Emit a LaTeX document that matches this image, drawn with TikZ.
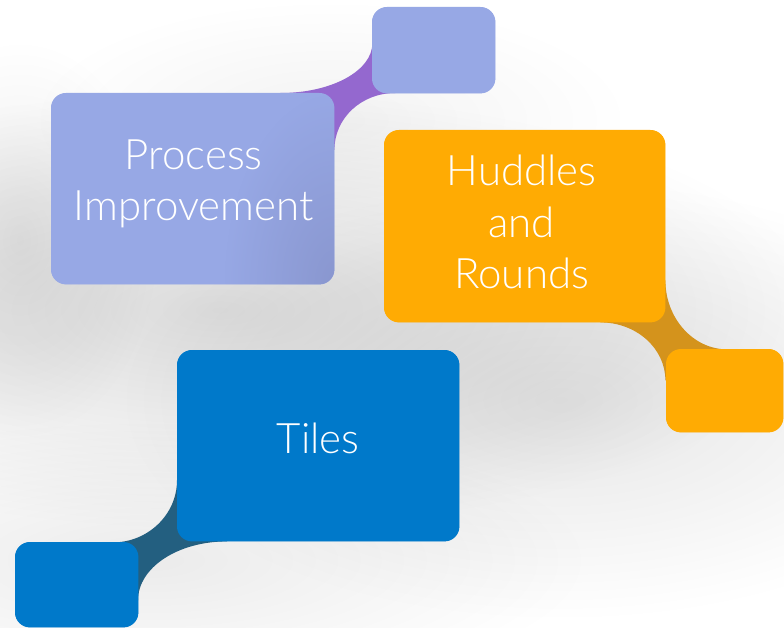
\documentclass[tikz,border=0pt]{standalone}
\usepackage{fontspec}
\setmainfont{Lato Light}
\usetikzlibrary{calc,fadings}

\definecolor{lavender}{HTML}{97A8E5}
\definecolor{lavenderdark}{HTML}{8591C8}
\definecolor{violetlink}{HTML}{9468CF}
\definecolor{amber}{HTML}{FFAB03}
\definecolor{amberlink}{HTML}{D4931C}
\definecolor{azure}{HTML}{0079CA}
\definecolor{azurelink}{HTML}{235F80}

\tikzfading[name=glow, inner color=transparent!0, outer color=transparent!100]

\tikzset{
  tile/.style={rectangle, rounded corners=15pt, inner sep=0pt, anchor=north west},
  caption/.style={text=white, align=center, inner sep=0pt,
    font=\fontsize{42}{51.5}\selectfont},
  glowspot/.style={fill=black, path fading=glow},
}

\begin{document}
\begin{tikzpicture}[x=1pt, y=-1pt]
  % canvas
  \fill[white] (0,0) rectangle (784,628);
  \useasboundingbox (0,0) rectangle (784,628);

  % soft grey shadow behind the diagram
  \fill[glowspot, opacity=0.14] (220,310) ellipse [x radius=600, y radius=220];
  \fill[glowspot, opacity=0.10] (560,400) ellipse [x radius=440, y radius=220];
  \fill[glowspot, opacity=0.08] (150,560) ellipse [x radius=440, y radius=140];
  \fill[glowspot, opacity=0.05] (330,120) ellipse [x radius=300, y radius=120];
  \fill[glowspot, opacity=0.08] (20,240) ellipse [x radius=140, y radius=200];

  % boxes
  \node[tile, fill=lavender, minimum width=283pt, minimum height=191pt] (pi) at (51,93) {};
  \node[tile, fill=lavender, minimum width=123pt, minimum height=86pt] (pis) at (372,7) {};
  \node[tile, fill=amber, minimum width=281pt, minimum height=192pt] (hr) at (384,130) {};
  \node[tile, fill=amber, minimum width=117pt, minimum height=83pt] (hrs) at (666,349) {};
  \node[tile, fill=azure, minimum width=282pt, minimum height=191pt] (tl) at (177,350) {};
  \node[tile, fill=azure, minimum width=123pt, minimum height=85pt] (tls) at (15,542) {};

  % curved links between each box and its small companion
  \begin{scope}[shift={(pi.north east)}]
    \fill[violetlink] (-54,0) .. controls (-3,0) and (38,-22) .. (38,-50)
      -- (66,-50) -- (66,0) -- (61,0) .. controls (27,0) and (0,25) .. (0,57)
      -- (-14,57) -- (-14,7) -- (-54,7) -- cycle;
  \end{scope}
  \begin{scope}[shift={(hr.south east)}]
    \fill[amberlink] (-15,-42) -- (0,-42) .. controls (0,-4) and (28,27) .. (62,27)
      -- (62,43) -- (0,58) .. controls (0,26) and (-29,0) .. (-65,0)
      -- (-65,-12) -- (-15,-12) -- cycle;
  \end{scope}
  \begin{scope}[shift={(tl.south west)}]
    \fill[azurelink] (0,-61) -- (13,-61) -- (13,-11) -- (50,-11) -- (50,0)
      .. controls (1,0) and (-39,26) .. (-39,59)
      -- (-52,59) -- (-64,9) -- (-64,1) .. controls (-29,1) and (0,-27) .. (0,-61) -- cycle;
  \end{scope}

  % redraw boxes over the links
  \fill[lavender, rounded corners=15pt] (pi.north west) rectangle (pi.south east);
  \begin{scope}
    \clip[rounded corners=15pt] (pi.north west) rectangle (pi.south east);
    \fill[lavenderdark, path fading=glow, opacity=0.75] (pi.south east) ellipse [x radius=110, y radius=190];
  \end{scope}
  \fill[lavender, rounded corners=15pt] (pis.north west) rectangle (pis.south east);
  \fill[amber, rounded corners=15pt] (hr.north west) rectangle (hr.south east);
  \fill[amber, rounded corners=15pt] (hrs.north west) rectangle (hrs.south east);
  \fill[azure, rounded corners=15pt] (tl.north west) rectangle (tl.south east);
  \fill[azure, rounded corners=15pt] (tls.north west) rectangle (tls.south east);

  % labels
  \node[caption] (pitext) at ($(pi.center)+(1,-5)$) {Process\\Improvement};
  \node[caption] (hrtext) at ($(hr.center)+(-3,-4)$) {Huddles\\and\\Rounds};
  \node[caption] (tltext) at ($(tl.center)+(0,-7)$) {Tiles};
\end{tikzpicture}
\end{document}
